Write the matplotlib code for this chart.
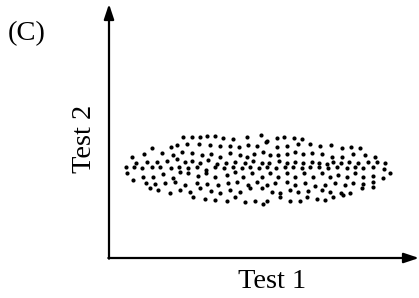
import matplotlib.pyplot as plt

# dot positions (image pixel units at 3x scale, y downwards)
test1 = [
    548, 575, 600, 622, 645, 670, 700, 742, 783, 800, 832, 852, 883, 905,
    512, 530, 560, 597, 630, 660, 690, 717, 745, 770, 797, 830, 862, 893, 930, 960, 992, 1025, 1052, 1080,
    455, 485, 520, 545, 575, 605, 632, 660, 690, 720, 740, 763, 790, 810, 835, 860, 885, 910, 935, 965, 995, 1025, 1060, 1095, 1125,
    395, 432, 408, 440, 470, 500, 530, 555, 577, 600, 625, 650, 677, 705, 735, 760, 785, 808, 838, 862, 885, 910, 935, 958, 980, 1000, 1022, 1048, 1075, 1105, 1130, 1155,
    378, 402, 425, 455, 480, 512, 538, 565, 590, 618, 645, 672, 700, 725, 750, 778, 802, 828, 855, 880, 905, 930, 958, 985, 1012, 1040, 1065, 1090, 1118, 1152,
    380, 430, 460, 490, 520, 540, 565, 595, 618, 645, 680, 705, 730, 755, 785, 810, 835, 860, 885, 912, 940, 965, 990, 1015, 1040, 1065, 1090, 1118, 1150, 1170,
    400, 437, 465, 495, 525, 555, 590, 620, 655, 685, 710, 745, 770, 800, 825, 860, 885, 915, 945, 975, 1005, 1035, 1060, 1090, 1118,
    450, 475, 510, 540, 570, 600, 632, 660, 690, 720, 750, 785, 815, 840, 870, 895, 925, 965, 990, 1022, 1050, 1085, 1118,
    580, 615, 645, 680, 705, 735, 765, 790, 800, 840, 870, 900, 920, 950, 975, 1000, 1030,
]
test2 = [
    412, 412, 410, 408, 408, 414, 418, 412, 406, 422, 414, 412, 414, 418,
    440, 435, 433, 432, 435, 437, 437, 440, 435, 438, 425, 440, 437, 432, 432, 437, 435, 445, 440, 445,
    445, 458, 465, 455, 460, 465, 462, 470, 460, 465, 470, 463, 457, 465, 465, 462, 455, 462, 460, 462, 470, 470, 463, 465, 470,
    470, 463, 488, 485, 485, 482, 478, 485, 483, 488, 480, 492, 490, 485, 488, 482, 488, 490, 483, 490, 487, 490, 485, 490, 492, 485, 490, 485, 490, 487, 485, 488,
    500, 502, 505, 502, 500, 505, 500, 505, 500, 510, 500, 505, 500, 505, 502, 505, 500, 505, 502, 500, 505, 500, 502, 505, 500, 505, 500, 505, 502, 507,
    520, 530, 530, 522, 535, 517, 520, 528, 518, 530, 525, 517, 530, 520, 530, 520, 530, 520, 530, 520, 530, 520, 530, 525, 532, 520, 530, 528, 533, 520,
    540, 550, 552, 548, 545, 555, 550, 553, 555, 550, 545, 555, 545, 555, 550, 545, 555, 550, 558, 555, 550, 555, 550, 553, 545,
    565, 570, 578, 570, 575, 565, 572, 578, 570, 575, 565, 563, 575, 580, 570, 575, 572, 570, 575, 580, 578, 565, 562,
    590, 598, 600, 603, 592, 605, 603, 612, 602, 592, 603, 603, 590, 598, 600, 590, 585,
]

panel_label = "(C)"
x_label = "Test 1"
y_label = "Test 2"

plt.rcParams['font.family'] = ['Liberation Serif', 'DejaVu Serif']

fig = plt.figure(figsize=(4.19, 2.98), dpi=100)
ax = fig.add_axes([0, 0, 1, 1])
ax.set_xlim(0, 1257)
ax.set_ylim(894, 0)
ax.axis('off')

# axes with arrow heads
arrow = dict(arrowstyle='-|>,head_length=0.9,head_width=0.3', color='black', lw=1.6,
             shrinkA=0, shrinkB=0)
ax.annotate('', xy=(327, 12), xytext=(327, 776), arrowprops=arrow)
ax.annotate('', xy=(1257, 774), xytext=(325, 774), arrowprops=arrow)

ax.scatter(test1, test2, s=9, color='black', linewidths=0)

ax.text(80, 100, panel_label, fontsize=20.5, ha='center', va='center')
ax.text(815, 845, x_label, fontsize=20.5, ha='center', va='center')
ax.text(252, 418, y_label, fontsize=20.5, ha='center', va='center', rotation=90)

fig.savefig('out.png', dpi=100)
